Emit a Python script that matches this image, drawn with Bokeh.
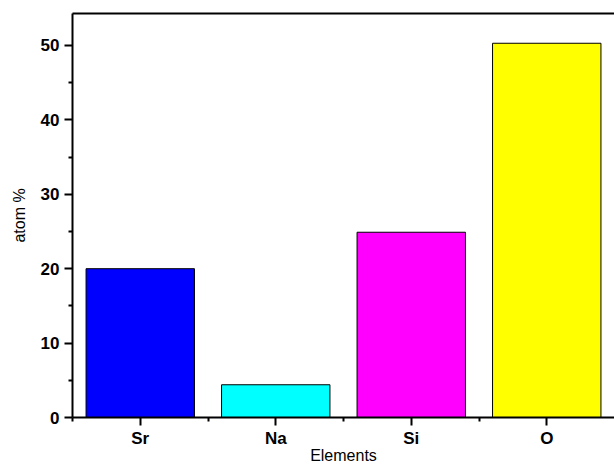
from bokeh.plotting import figure
from bokeh.models import FixedTicker, LinearAxis, Range1d, ColumnDataSource
from bokeh.embed import file_html
from bokeh.resources import INLINE

elements = ["Sr", "Na", "Si", "O"]
atom_pct = [20.0, 4.4, 24.9, 50.3]
colors = ["#0000FF", "#00FFFF", "#FF00FF", "#FFFF00"]
positions = [1, 2, 3, 4]
y_ticks = [0, 10, 20, 30, 40, 50]

src = ColumnDataSource(dict(x=positions, top=atom_pct, color=colors))

p = figure(width=614, height=467, output_backend="svg", toolbar_location=None,
           x_range=Range1d(0.5, 4.5), y_range=Range1d(0, 54.3),
           min_border_left=72, min_border_right=0, min_border_top=13, min_border_bottom=50)
p.vbar(x="x", top="top", width=0.8, bottom=0, fill_color="color",
       line_color="black", line_width=1, source=src)

p.grid.visible = False
p.outline_line_color = None
p.background_fill_color = "white"

font = "Liberation Sans"
xa = p.xaxis[0]
xa.ticker = FixedTicker(ticks=positions, minor_ticks=[0.5, 1.5, 2.5, 3.5])
xa.major_label_overrides = {i: e for i, e in zip(positions, elements)}
xa.axis_label = "Elements"
ya = p.yaxis[0]
ya.ticker = FixedTicker(ticks=y_ticks, minor_ticks=[5, 15, 25, 35, 45])
ya.axis_label = "atom %"

for ax in (xa, ya):
    ax.axis_line_width = 2
    ax.axis_line_color = "black"
    ax.major_tick_line_width = 2
    ax.minor_tick_line_width = 2
    ax.major_tick_in = 0
    ax.major_tick_out = 8
    ax.minor_tick_in = 0
    ax.minor_tick_out = 4
    ax.major_label_text_font = font
    ax.major_label_text_font_style = "bold"
    ax.major_label_text_font_size = "17px"
    ax.major_label_text_color = "black"
    ax.axis_label_text_font = font
    ax.axis_label_text_font_style = "normal"
    ax.axis_label_text_font_size = "16px"
    ax.axis_label_text_color = "black"

xa.major_label_standoff = 3
xa.axis_label_standoff = -4
xa.axis_label_text_line_height = 1.0
xa.major_label_text_line_height = 1.0
ya.major_label_standoff = 5
ya.axis_label_standoff = 10

top = LinearAxis(axis_line_width=2, axis_line_color="black", major_tick_line_color=None,
                 minor_tick_line_color=None, major_label_text_font_size="0px",
                 major_tick_out=0, major_tick_in=0, minor_tick_out=0, minor_tick_in=0,
                 major_label_standoff=0)
top.ticker = FixedTicker(ticks=[])
p.add_layout(top, "above")

open("out.html", "w").write(file_html(p, INLINE))
